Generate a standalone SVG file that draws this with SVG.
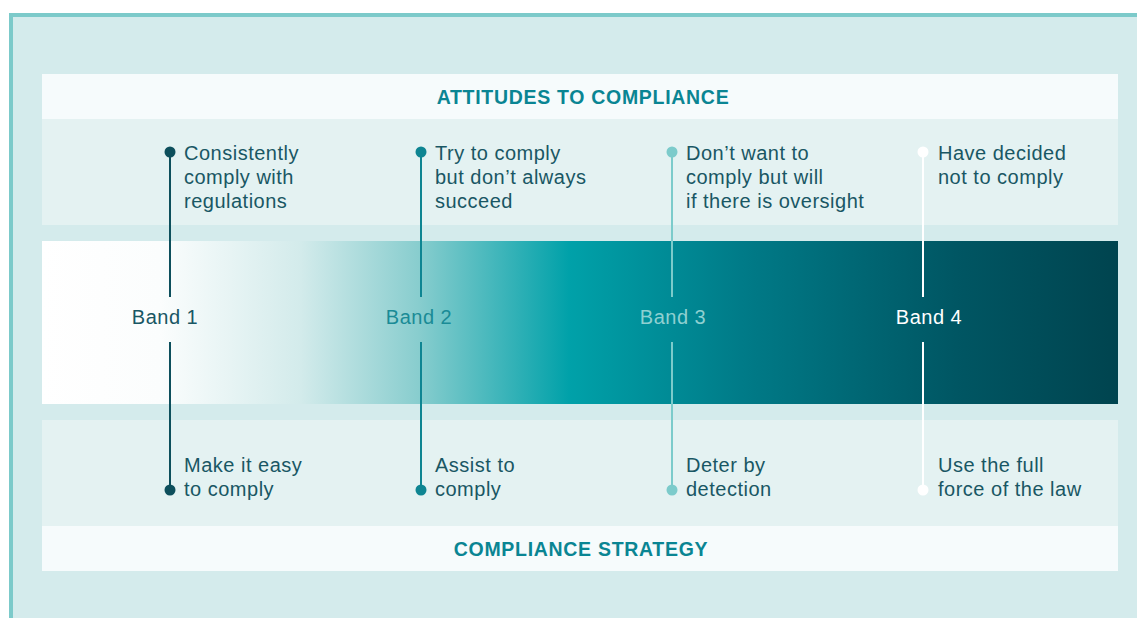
<svg xmlns="http://www.w3.org/2000/svg" width="1137" height="618" viewBox="0 0 1137 618">
<defs>
<linearGradient id="bar" x1="42" y1="0" x2="1118" y2="0" gradientUnits="userSpaceOnUse">
<stop offset="0" stop-color="#ffffff"/>
<stop offset="0.11" stop-color="#fbfdfd"/>
<stop offset="0.24" stop-color="#d3ebeb"/>
<stop offset="0.35" stop-color="#88cdce"/>
<stop offset="0.49" stop-color="#00a1a9"/>
<stop offset="0.65" stop-color="#007b88"/>
<stop offset="0.85" stop-color="#005663"/>
<stop offset="1" stop-color="#00444f"/>
</linearGradient>
<style>
.t{font-family:"Liberation Sans","DejaVu Sans",sans-serif;font-size:20px;fill:#195764;letter-spacing:0.5px;}
.h{font-family:"Liberation Sans","DejaVu Sans",sans-serif;font-size:19.5px;font-weight:bold;fill:#0a8593;text-anchor:middle;letter-spacing:0.7px;}
.b{font-family:"Liberation Sans","DejaVu Sans",sans-serif;font-size:20px;text-anchor:middle;letter-spacing:0.5px;}
.ln{stroke-width:2;fill:none;}
</style>
</defs>
<rect x="0" y="0" width="1137" height="618" fill="#ffffff"/>
<rect x="9" y="13" width="1128" height="605" fill="#7ccaca"/>
<rect x="13" y="17" width="1124" height="601" fill="#d4ebec"/>
<g id="header-top">
<rect x="42" y="74" width="1076" height="45" fill="#f6fbfc"/>
<text class="h" x="583" y="104">ATTITUDES TO COMPLIANCE</text>
</g>
<rect x="42" y="119" width="1076" height="106" fill="#e4f2f2"/>
<rect x="42" y="420" width="1076" height="106" fill="#e4f2f2"/>
<g id="header-bottom">
<rect x="42" y="526" width="1076" height="45" fill="#f6fbfc"/>
<text class="h" x="581" y="556">COMPLIANCE STRATEGY</text>
</g>
<rect id="gradient-bar" x="42" y="241" width="1076" height="163" fill="url(#bar)"/>
<g id="connectors">
<line class="ln" x1="170" y1="152" x2="170" y2="297" stroke="#0d4f5c"/>
<line class="ln" x1="170" y1="342" x2="170" y2="490" stroke="#0d4f5c"/>
<line class="ln" x1="421" y1="152" x2="421" y2="297" stroke="#0e8592"/>
<line class="ln" x1="421" y1="342" x2="421" y2="490" stroke="#0e8592"/>
<line class="ln" x1="672" y1="152" x2="672" y2="297" stroke="#7ccbcb"/>
<line class="ln" x1="672" y1="342" x2="672" y2="490" stroke="#7ccbcb"/>
<line class="ln" x1="923" y1="152" x2="923" y2="297" stroke="#ffffff"/>
<line class="ln" x1="923" y1="342" x2="923" y2="490" stroke="#ffffff"/>
</g>
<g id="band1">
<circle cx="170" cy="152" r="5.5" fill="#0d4f5c"/>
<circle cx="170" cy="490" r="5.5" fill="#0d4f5c"/>
<text class="t" x="184" y="160">Consistently</text>
<text class="t" x="184" y="184">comply with</text>
<text class="t" x="184" y="208">regulations</text>
<text class="b" x="165" y="324" fill="#195764">Band 1</text>
<text class="t" x="184" y="472">Make it easy</text>
<text class="t" x="184" y="496">to comply</text>
</g>
<g id="band2">
<circle cx="421" cy="152" r="5.5" fill="#0e8592"/>
<circle cx="421" cy="490" r="5.5" fill="#0e8592"/>
<text class="t" x="435" y="160">Try to comply</text>
<text class="t" x="435" y="184">but don’t always</text>
<text class="t" x="435" y="208">succeed</text>
<text class="b" x="419" y="324" fill="#1a8b96">Band 2</text>
<text class="t" x="435" y="472">Assist to</text>
<text class="t" x="435" y="496">comply</text>
</g>
<g id="band3">
<circle cx="672" cy="152" r="5.5" fill="#7ccbcb"/>
<circle cx="672" cy="490" r="5.5" fill="#7ccbcb"/>
<text class="t" x="686" y="160">Don’t want to</text>
<text class="t" x="686" y="184">comply but will</text>
<text class="t" x="686" y="208">if there is oversight</text>
<text class="b" x="673" y="324" fill="#8fd0d1">Band 3</text>
<text class="t" x="686" y="472">Deter by</text>
<text class="t" x="686" y="496">detection</text>
</g>
<g id="band4">
<circle cx="923" cy="152" r="5.5" fill="#ffffff"/>
<circle cx="923" cy="490" r="5.5" fill="#ffffff"/>
<text class="t" x="938" y="160">Have decided</text>
<text class="t" x="938" y="184">not to comply</text>
<text class="b" x="929" y="324" fill="#ffffff">Band 4</text>
<text class="t" x="938" y="472">Use the full</text>
<text class="t" x="938" y="496">force of the law</text>
</g>
</svg>
